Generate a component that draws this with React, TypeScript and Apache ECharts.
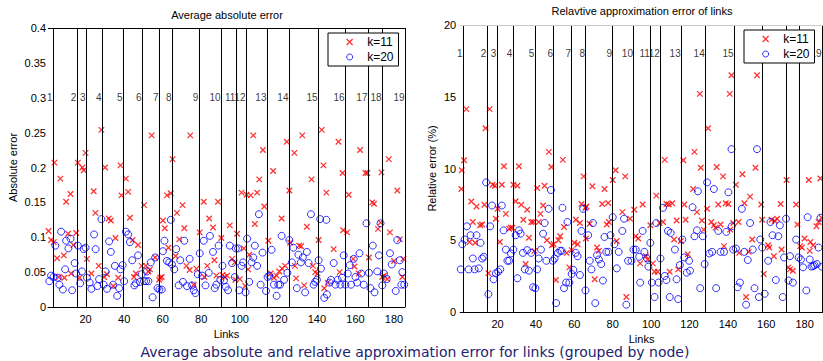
import React, { useEffect, useRef } from "react";
import * as echarts from "echarts";

const FONT = "Liberation Sans, Arial, sans-serif";

const xTickValues = [20, 40, 60, 80, 100, 120, 140, 160, 180];
const nodeNames = ["1","2","3","4","5","6","7","8","9","10","11","12","13","14","15","16","17","18","19"];
const absNodeLines = [3.1, 15.5, 20.2, 28.5, 39.4, 49.3, 58.1, 64.8, 78.8, 90.3, 98.0, 103.2, 114.1, 125.5, 140.6, 154.6, 166.5, 173.8, 185.7];
const relNodeLines = [2.0, 14.4, 19.6, 27.9, 39.4, 49.2, 58.6, 65.9, 79.9, 90.8, 99.6, 104.8, 115.7, 128.2, 143.3, 157.8, 170.3, 177.1, 189.1];
const absNodeLabelY = 0.3;
const relNodeLabelY = 18;
// node labels hidden behind the legend box in the right panel
const absHiddenLabels: string[] = [];
const relHiddenLabels = ["16", "17", "18"];

const absK11 = [
  [0.8,0.109],[2.1,0.096],[3.5,0.093],[3.8,0.207],[5.2,0.070],[6.1,0.043],[6.9,0.184],[8.7,0.074],[9.0,0.042],[9.9,0.151],
  [10.9,0.105],[12.2,0.162],[12.5,0.048],[13.7,0.089],[15.1,0.106],[16,0.207],[16.9,0.042],[18.3,0.2],[19.1,0.196],[20,0.221],
  [20.7,0.069],[23,0.048],[24.2,0.166],[25.1,0.135],[26.8,0.059],[28.2,0.254],[29.6,0.043],[30.1,0.2],[31.1,0.047],[32,0.127],
  [33.1,0.124],[34.3,0.030],[35.5,0.099],[36.9,0.042],[38.1,0.203],[38.6,0.160],[40.9,0.184],[42.1,0.165],[43,0.128],[44.4,0.096],
  [45.1,0.043],[46.1,0.048],[47.2,0.089],[49.1,0.059],[50.3,0.146],[51.2,0.059],[52.6,0.051],[53.4,0.054],[54.3,0.246],[56.1,0.071],
  [58.2,0.039],[58.7,0.042],[59.5,0.043],[60.1,0.124],[61.1,0.113],[62.2,0.160],[63,0.085],[64.2,0.163],[65.1,0.212],[66.7,0.073],
  [67.4,0.135],[68.6,0.097],[70.3,0.146],[71.2,0.113],[72.3,0.059],[74,0.053],[74.3,0.246],[76.1,0.032],[77.5,0.055],[79.2,0.107],
  [81.3,0.151],[81.6,0.043],[83.1,0.059],[84.1,0.127],[86.1,0.114],[86.8,0.067],[87.8,0.045],[88.7,0.151],[90.4,0.099],[91,0.046],
  [92.2,0.043],[93.4,0.045],[94.8,0.117],[96,0.069],[97.4,0.064],[97.7,0.039],[98.6,0.105],[100,0.040],[100.9,0.164],[102.1,0.084],
  [102.8,0.030],[103.5,0.161],[104.3,0.054],[104.9,0.075],[105.6,0.160],[107,0.246],[107.8,0.119],[109,0.164],[110.1,0.183],[112,0.225],
  [112.7,0.144],[114.8,0.095],[116,0.048],[117.3,0.195],[117.7,0.042],[119.1,0.045],[120.5,0.051],[121.7,0.127],[121.9,0.055],[123.5,0.059],
  [124.4,0.237],[125.7,0.167],[126.1,0.092],[128.3,0.221],[128.6,0.059],[129.2,0.041],[130.8,0.088],[131.8,0.087],[132.4,0.246],[133.4,0.031],
  [134.8,0.115],[137.2,0.183],[137.9,0.059],[139.1,0.05],[140.3,0.048],[140.9,0.096],[142.5,0.254],[143.4,0.203],[143.8,0.027],[144.9,0.164],
  [145.6,0.035],[148.7,0.083],[151.2,0.237],[151.8,0.05],[153.3,0.192],[153.6,0.11],[155.7,0.107],[156.5,0.161],[158.8,0.069],[159.5,0.058],
  [161.7,0.048],[162.4,0.225],[165.2,0.192],[166.2,0.192],[167,0.071],[168.7,0.15],[169.6,0.148],[171.7,0.112],[173,0.121],[173.5,0.193],
  [173.9,0.043],[174.8,0.045],[176.5,0.04],[177.3,0.212],[177.9,0.107],[180,0.066],[181.7,0.167],[183,0.097],[184.3,0.043],[184.9,0.069]
];

const absK20 = [
  [1.2,0.037],[2.1,0.045],[3.3,0.043],[4.3,0.088],[5.5,0.042],[6.4,0.032],[7.3,0.108],[8.2,0.025],[9.4,0.054],[9.9,0.095],
  [11.1,0.084],[12.2,0.098],[13,0.024],[14.3,0.063],[15.1,0.048],[16,0.088],[17.2,0.034],[18.1,0.051],[19,0.083],[20,0.085],
  [20.7,0.042],[22.1,0.035],[23,0.026],[24.4,0.104],[25.2,0.083],[26.1,0.030],[27,0.040],[28.2,0.126],[29.4,0.032],[30.3,0.051],
  [31.1,0.026],[32.2,0.094],[33.1,0.079],[34.3,0.032],[35.2,0.059],[36.4,0.016],[37.4,0.027],[38.1,0.054],[39.2,0.060],[40,0.037],
  [40.9,0.108],[42.1,0.104],[43,0.093],[44.2,0.067],[45.3,0.031],[46.1,0.034],[47.2,0.074],[48.2,0.036],[49.1,0.047],[50.3,0.037],
  [51.4,0.037],[51.7,0.051],[52.6,0.037],[53.8,0.064],[54.8,0.014],[56.1,0.071],[57.3,0.027],[58.3,0.025],[59.5,0.025],[60.1,0.080],
  [60.9,0.095],[62.2,0.066],[63.4,0.064],[64.2,0.125],[64.8,0.061],[66,0.054],[67,0.083],[68.3,0.031],[69.1,0.067],[70.5,0.036],
  [71.2,0.095],[72.6,0.030],[74,0.069],[75.2,0.031],[76.1,0.024],[77,0.020],[78.2,0.047],[79.2,0.077],[80.5,0.045],[81.3,0.095],
  [82.2,0.031],[83.9,0.049],[84.5,0.102],[86.1,0.079],[87,0.027],[87.8,0.032],[89,0.088],[89.9,0.039],[91,0.059],[91.8,0.038],
  [92.7,0.029],[93.9,0.024],[94.8,0.088],[96,0.063],[97.4,0.043],[97.9,0.084],[99.1,0.084],[99.7,0.024],[100.9,0.059],[101.7,0.064],
  [103,0.021],[103.8,0.098],[104.9,0.036],[106.1,0.064],[107,0.071],[107.8,0.088],[109,0.059],[109.9,0.133],[110.8,0.032],[111.8,0.078],
  [113.6,0.023],[114.4,0.043],[115.3,0.045],[116.5,0.082],[117.7,0.032],[119.1,0.016],[120,0.032],[120.9,0.032],[121.7,0.102],[123,0.039],
  [124.7,0.049],[125.7,0.096],[127,0.064],[127.8,0.085],[129.6,0.027],[130.4,0.075],[131.7,0.064],[132.7,0.071],[133.9,0.021],[134.8,0.079],
  [135.7,0.063],[136.9,0.133],[138.3,0.032],[139.1,0.036],[140,0.039],[140.9,0.067],[141.7,0.126],[142.1,0.055],[143.8,0.013],[144.9,0.125],
  [145.2,0.018],[146.6,0.035],[147.3,0.039],[148.7,0.063],[149.6,0.032],[150.8,0.039],[152.2,0.032],[153,0.042],[153.9,0.074],[154.8,0.032],
  [156,0.048],[157,0.06],[157.7,0.032],[159.1,0.069],[160,0.043],[160.9,0.035],[162.1,0.077],[163,0.048],[164.3,0.032],[165.7,0.12],
  [167,0.049],[167.8,0.027],[169,0.088],[169.9,0.021],[171.3,0.051],[172.2,0.074],[173,0.12],[173.9,0.031],[174.8,0.048],[176.2,0.04],
  [177.9,0.077],[178.8,0.061],[180.9,0.023],[181.7,0.096],[183,0.067],[183.8,0.032],[184.3,0.05],[185.3,0.032]
];

const relK11 = [
  [1.1,8.57],[1.3,9.88],[2.5,10.58],[3.7,14.14],[5.4,4.88],[6.3,7.7],[7.1,6.27],[8.3,4.82],[9,7.35],[10.9,6.04],
  [11.9,6.1],[13.1,7.47],[13.7,12.8],[15.2,2.7],[15.8,14.14],[17.4,8.87],[18.6,8.8],[19.1,6.5],[20,7.19],[21.2,4.88],
  [22.2,8.87],[23.3,10.16],[24.3,6.84],[26,5.8],[26.9,5.88],[27.7,5.88],[28.2,8.87],[29.4,7.72],[30.3,8.8],[31.1,10.16],
  [32.3,7.47],[33.4,6.43],[34.6,3.34],[35.4,7.12],[36.3,5.18],[37.5,6.27],[38.5,6.27],[39.2,4.26],[40.6,8.64],[41.4,6.27],
  [42.3,6.84],[43.7,7.42],[44.5,8.8],[45.7,5],[46.7,11.16],[48,10.1],[48.3,4.65],[49.2,4.72],[50.4,2.23],[51.7,5],
  [52.6,5.28],[54,10.6],[54.6,5.92],[56,4.12],[57.4,3.11],[58.6,4.31],[60,4.82],[60.8,6.43],[61.7,4.72],[62.9,6.2],
  [63.7,7.53],[64.8,9.45],[65.8,7.26],[66,5.12],[66.3,7.35],[68,6.15],[69.4,8.76],[70.6,2.28],[71.8,4.49],[72.8,4.26],
  [74.5,7.53],[75.7,8.57],[76.9,6.1],[77.6,7.6],[78,6.27],[80,9.2],[81.5,9.88],[82.1,4.95],[85,6.96],[86.5,9.45],
  [87.1,1.04],[89,6.5],[91.2,7.12],[92,5.28],[93.3,5.12],[94.3,3.39],[95.6,7.49],[97.3,3.89],[98.2,3.66],[99.6,6.04],
  [100.9,3.39],[101.8,2.81],[102.7,8.11],[103.5,2.81],[104.4,6.2],[106.2,6.27],[107.1,10.6],[108,7.53],[109.2,7.49],[109.7,2.81],
  [111,7.58],[112,5.05],[113.3,6.38],[114.1,2.97],[115.5,4.95],[116.8,10.58],[117.3,7.49],[118,6.43],[119.1,4.03],[121.9,8.57],
  [122.6,11.16],[123.9,6.96],[125.4,15.2],[125.9,10.05],[126.5,6.38],[127.4,5.74],[129.2,7.19],[129.7,12.8],[131.4,6.27],[132.7,6.04],
  [133.6,5.88],[134.2,10.1],[135,7.49],[136.2,6.1],[137.5,9.45],[138,4.59],[138.9,7.58],[140.3,7.53],[141,15.2],[141.2,5.74],
  [141.9,16.5],[142.8,6.2],[144.2,8.87],[145.6,6.27],[145.9,4.12],[147.6,9.6],[148.6,7.58],[149.5,1.04],[150.9,4.19],[151.6,8.04],
  [152.7,5.05],[154.4,10.05],[155.2,16.5],[157.4,7.49],[157.9,6.43],[158.7,2.65],[161,4.65],[161.6,4.49],[162.8,6.43],[164,3.89],
  [164.5,6.34],[165.7,6.5],[167.5,7.53],[168,4.35],[170.6,9.2],[171.6,3.11],[172.4,2.97],[173.9,2.88],[175.6,7.49],[176.3,6.1],
  [177.7,4.59],[178.6,4.49],[180,5.12],[182.2,9.2],[182.7,4.26],[183,4.88],[184.5,4.65],[186.2,5.97],[187.3,6.27],[188.2,9.3],[188.9,6.57]
];

const relK20 = [
  [0.8,2.97],[1.6,4.72],[2.8,5.05],[4,5.97],[4.9,2.97],[5.9,5.35],[7.1,3.73],[8,2.97],[9,5.35],[10.2,3.04],
  [11.1,4.82],[11.9,3.73],[12.8,3.85],[14,9.03],[15.2,1.24],[16.1,5.97],[17.1,7.42],[17.9,2.28],[19.1,2.7],[20.3,2.81],
  [21.4,2.97],[22.2,7.42],[23.1,5.69],[24.3,4.35],[25.1,3.57],[26,3.57],[26.9,4.08],[28.2,4.35],[29.4,5.35],[30.3,2.35],
  [31.1,5.69],[32,5.46],[33.2,4.12],[34.2,2.97],[35.4,4.31],[36.3,2.88],[37.5,4.12],[38.5,1.73],[39.7,1.66],[40.6,2.97],
  [41.4,3.73],[42.6,4.35],[43.7,5.46],[44.5,6.2],[45.4,3.57],[46.6,7.19],[47.8,8.5],[48.8,3.57],[49.7,3.73],[50.5,0.62],
  [51.4,4.12],[52.6,4.26],[53.4,4.26],[53.8,7.26],[54.6,1.66],[55.7,2.05],[56.4,6.27],[57.4,2.05],[58.6,2.65],[59.5,2.93],
  [60.7,4.12],[61.7,3.89],[62.9,2.58],[63.7,5.65],[64.6,7.19],[65.8,1.5],[67.2,5.35],[68,3.57],[68.9,2.97],[69.7,6.2],
  [70.9,0.62],[71.8,3.96],[72.8,3.66],[74,3.34],[74.9,2.19],[75.7,5.23],[76.6,4.19],[77.8,4.19],[78.8,5.35],[80,6.61],
  [80.9,4.72],[82.1,3.04],[83.1,4.19],[85,5.65],[85.9,6.5],[87.1,0.51],[88,3.57],[89.8,3.57],[90.8,4.35],[92,4.35],
  [93.8,3.85],[94.3,2.05],[95.6,5.65],[96.5,4.19],[97.9,3.73],[98.6,3.16],[99.6,4.82],[100.4,2.05],[101.8,1.04],[102.7,6.2],
  [103.9,2.05],[104.9,3.73],[106.2,7.26],[107.1,2.51],[108,2.23],[108.8,5.65],[109.7,1.04],[110.2,5.51],[112.4,4.35],[113.3,2.28],
  [114.1,0.9],[115,3.27],[116.3,5.05],[117.3,3.8],[118.6,2.74],[119.8,3.57],[120.3,2.88],[121.6,7.3],[122.6,5.28],[123.9,5.69],
  [124.4,8.41],[125.6,1.66],[126.9,5.28],[127.9,3.34],[129.2,9.03],[130.4,4.08],[131.8,4.19],[132.7,8.57],[133.9,1.66],[135,5.65],
  [136.2,4.19],[138,4.19],[139.2,5.58],[140.3,8.34],[141.9,11.35],[142,5.97],[142.8,4.35],[144.2,4.42],[145.1,1.73],[146.3,2.05],
  [147.3,7.19],[148.6,4.19],[149.5,0.51],[150.4,3.62],[151.6,6.2],[153,4.35],[153.9,1.66],[155.2,11.35],[156.2,1.04],[156.9,5.05],
  [157.9,4.49],[159.2,1.27],[161,3.57],[162.2,6.27],[163.3,5.35],[165,2.23],[166.3,5.28],[167.1,6.04],[168.6,1.04],[169.3,3.8],
  [170.3,6.5],[171.6,2.19],[172.4,3.89],[173.9,2.05],[175.6,5.05],[176.9,3.8],[178.1,3.66],[179.2,3.11],[180.9,1.5],[181.6,6.61],
  [182.7,3.66],[183.6,3.16],[184.5,3.2],[185.2,3.27],[186.4,3.34],[187.3,4.49],[188.3,6.57],[189.0,3.16]
];

const X_PATH = "path://M0,0L10,10M0,10L10,0";
const RED = "#ff0000";
const BLUE = "#0000ff";

function nodeSeries(
  name: string,
  idx: number,
  lines: number[],
  labelY: number,
  hidden: string[],
  topY: number,
  topColor: string
) {
  return {
    name,
    type: "scatter",
    xAxisIndex: idx,
    yAxisIndex: idx,
    symbolSize: 1,
    itemStyle: { color: "rgba(0,0,0,0)" },
    silent: true,
    z: 1,
    data: lines.map((x, i) => ({
      value: [x, labelY],
      label: { show: hidden.indexOf(nodeNames[i]) < 0 },
    })),
    label: {
      show: true,
      position: "left",
      distance: 0,
      fontSize: 10,
      fontFamily: FONT,
      color: "#000",
      formatter: (p: any) => nodeNames[p.dataIndex],
    },
    markLine: {
      silent: true,
      symbol: ["none", "none"],
      animation: false,
      label: { show: false },
      lineStyle: { color: "#000", width: 1, type: "solid" },
      data: [
        ...lines.map((x) => ({ xAxis: x })),
        { yAxis: topY, lineStyle: { color: topColor, width: 1, type: "solid" } },
      ],
    },
  };
}

function k11Series(idx: number, data: number[][]) {
  return {
    name: "k=11",
    type: "scatter",
    xAxisIndex: idx,
    yAxisIndex: idx,
    symbol: X_PATH,
    symbolSize: 5.5,
    itemStyle: { color: "rgba(0,0,0,0)", borderColor: RED, borderWidth: 1.3 },
    z: 3,
    data,
  };
}

function k20Series(idx: number, data: number[][]) {
  return {
    name: "k=20",
    type: "scatter",
    xAxisIndex: idx,
    yAxisIndex: idx,
    symbol: "circle",
    symbolSize: 7,
    itemStyle: { color: "rgba(0,0,0,0)", borderColor: BLUE, borderWidth: 1 },
    z: 4,
    data,
  };
}

function legendAt(left: number, top: number) {
  return {
    orient: "vertical",
    left,
    top,
    padding: [3, 5, 3, 18],
    itemGap: 3,
    itemWidth: 25,
    itemHeight: 6,
    backgroundColor: "#fff",
    borderColor: "#000",
    borderWidth: 1,
    borderRadius: 0,
    selectedMode: false,
    zlevel: 1,
    z: 10,
    textStyle: { fontSize: 12, color: "#000", fontFamily: FONT },
    data: [
      { name: "k=11", icon: X_PATH, itemStyle: { color: "rgba(0,0,0,0)", borderColor: RED, borderWidth: 1.3 } },
      { name: "k=20", icon: "circle", itemStyle: { color: "rgba(0,0,0,0)", borderColor: BLUE, borderWidth: 1 } },
    ],
  };
}

function xAxisCfg(idx: number, min: number, max: number) {
  return {
    type: "value",
    gridIndex: idx,
    min,
    max,
    name: "Links",
    nameLocation: "middle",
    nameGap: 19,
    nameTextStyle: { fontSize: 11, color: "#000", fontFamily: FONT },
    splitLine: { show: false },
    axisTick: { show: false },
    axisLine: { show: true, onZero: false, lineStyle: { color: "#000", width: 1 } },
    axisLabel: {
      customValues: xTickValues,
      fontSize: 11,
      color: "#000",
      fontFamily: FONT,
      margin: 6,
    },
  };
}

export default function App() {
  const ref = useRef<HTMLDivElement>(null);
  useEffect(() => {
    if (!ref.current) return;
    const chart = echarts.init(ref.current, null, { renderer: "svg" });
    const option: any = {
      animation: false,
      backgroundColor: "#fff",
      grid: [
        { left: 48, top: 28, width: 357, height: 279, containLabel: false },
        { left: 460.2, top: 25, width: 364, height: 287, containLabel: false },
      ],
      xAxis: [xAxisCfg(0, 0.5, 185.7), xAxisCfg(1, 0.5, 189.6)],
      yAxis: [
        {
          type: "value",
          gridIndex: 0,
          min: 0,
          max: 0.4,
          interval: 0.05,
          name: "Absolute error",
          nameLocation: "middle",
          nameGap: 30,
          nameTextStyle: { fontSize: 11, color: "#000", fontFamily: FONT },
          splitLine: { show: false },
          axisTick: { show: false },
          axisLine: { show: false },
          axisLabel: {
            fontSize: 11,
            color: "#000",
            fontFamily: FONT,
            margin: 2,
            formatter: (v: number) => String(+v.toFixed(2)),
          },
        },
        {
          type: "value",
          gridIndex: 1,
          min: 0,
          max: 20,
          interval: 5,
          name: "Relative error (%)",
          nameLocation: "middle",
          nameGap: 23,
          nameTextStyle: { fontSize: 11, color: "#000", fontFamily: FONT },
          splitLine: { show: false },
          axisTick: { show: false },
          axisLine: { show: false },
          axisLabel: { fontSize: 11, color: "#000", fontFamily: FONT, margin: 4 },
        },
      ],
      legend: [legendAt(328, 33), legendAt(744, 30)],
      series: [
        nodeSeries("nodesAbs", 0, absNodeLines, absNodeLabelY, absHiddenLabels, 0.4, "#000"),
        k11Series(0, absK11),
        k20Series(0, absK20),
        nodeSeries("nodesRel", 1, relNodeLines, relNodeLabelY, relHiddenLabels, 20, "#cccccc"),
        k11Series(1, relK11),
        k20Series(1, relK20),
      ],
      graphic: [
        {
          type: "text",
          x: 227,
          y: 15,
          style: { text: "Average absolute error", font: `11px ${FONT}`, fill: "#000", textAlign: "center", textVerticalAlign: "middle" },
        },
        {
          type: "text",
          x: 642,
          y: 11,
          style: { text: "Relavtive approximation error of links", font: `11px ${FONT}`, fill: "#000", textAlign: "center", textVerticalAlign: "middle" },
        },
        {
          type: "text",
          x: 415,
          y: 352,
          style: {
            text: "Average absolute and relative approximation error for links (grouped by node)",
            font: `14px "DejaVu Sans", sans-serif`,
            fill: "#22226e",
            textAlign: "center",
            textVerticalAlign: "middle",
          },
        },
      ],
    };
    chart.setOption(option);
    return () => chart.dispose();
  }, []);
  return (
    <div
      ref={ref}
      style={{ position: "fixed", left: 0, top: 0, width: 823, height: 361, background: "#fff" }}
    />
  );
}
